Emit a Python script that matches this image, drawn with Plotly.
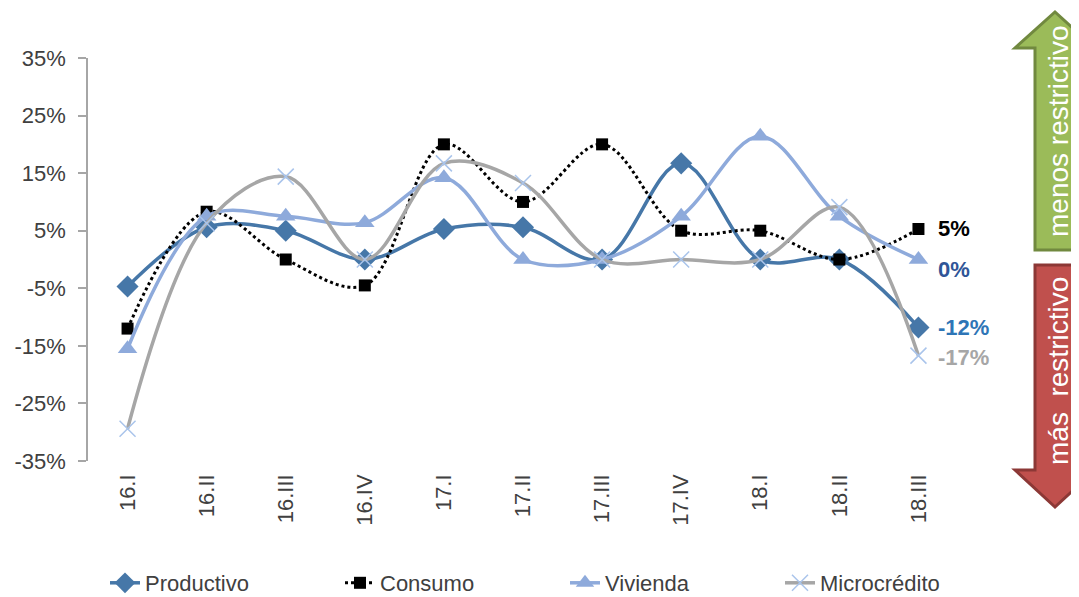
import plotly.graph_objects as go

# Datos (variación %, trimestres)
trimestres = ["16.I", "16.II", "16.III", "16.IV", "17.I", "17.II",
              "17.III", "17.IV", "18.I", "18.II", "18.III"]
productivo = [-4.7, 5.6, 5.0, 0.0, 5.3, 5.6, 0.0, 16.7, 0.0, 0.0, -11.8]
consumo = [-12.0, 8.3, 0.0, -4.5, 20.0, 10.0, 20.0, 5.0, 5.0, 0.0, 5.3]
vivienda = [-15.5, 7.5, 7.5, 6.4, 14.2, 0.0, 0.0, 7.5, 21.4, 7.5, 0.0]
microcredito = [-29.4, 6.3, 14.4, 0.0, 16.7, 13.3, 0.0, 0.0, 0.0, 9.1, -16.7]
y_ticks = [-35, -25, -15, -5, 5, 15, 25, 35]

FONT = "Liberation Sans Narrow, Arial Narrow, Liberation Sans, sans-serif"
OFF = 8  # margen del body de la página
W, H = 1079 - OFF, 597 - OFF
# área de trazado en píxeles de pantalla
L, R, T, B = 88, 958, 58, 461


def px(x):
    return (x - L) / (R - L)


def py(y):
    return (B - y) / (B - T)


fig = go.Figure()

fig.add_trace(go.Scatter(
    x=trimestres, y=productivo, name="Productivo", mode="lines+markers",
    legend="legend",
    line=dict(color="#4677A8", width=3.5, shape="spline", smoothing=1),
    marker=dict(symbol="diamond", size=17, color="#4677A8")
))
fig.add_trace(go.Scatter(
    x=trimestres, y=consumo, name="Consumo", mode="lines+markers",
    legend="legend2",
    line=dict(color="#000000", width=3, dash="dot", shape="spline", smoothing=1),
    marker=dict(symbol="square", size=12, color="#000000")
))
fig.add_trace(go.Scatter(
    x=trimestres, y=vivienda, name="Vivienda", mode="lines+markers",
    legend="legend3",
    line=dict(color="#8EAADB", width=3.5, shape="spline", smoothing=1),
    marker=dict(symbol="triangle-up", size=17, color="#8EAADB")
))
fig.add_trace(go.Scatter(
    x=trimestres, y=microcredito, name="Microcrédito", mode="lines+markers",
    legend="legend4",
    line=dict(color="#A6A6A6", width=3.5, shape="spline", smoothing=1),
    marker=dict(symbol="x-thin", size=16, color="#A9C4EB",
                line=dict(color="#A9C4EB", width=1.5))
))

# Etiquetas finales
etiquetas = [
    (consumo[-1], "#000000", 0),
    (vivienda[-1], "#2F5597", -10),
    (productivo[-1], "#2E75B6", 0),
    (microcredito[-1], "#A6A6A6", -2),
]
for val, col, ys in etiquetas:
    fig.add_annotation(
        x=trimestres[-1], y=val, text=f"<b>{round(val)}%</b>",
        showarrow=False, xanchor="left", xshift=18, yshift=ys,
        font=dict(family=FONT, size=22, color=col)
    )

# Flechas laterales
green = (f"M {px(1035)},{py(250)} L {px(1035)},{py(48)} L {px(1015)},{py(48)} "
         f"L {px(1055)},{py(12)} L {px(1095)},{py(48)} L {px(1076)},{py(48)} "
         f"L {px(1076)},{py(250)} Z")
red = (f"M {px(1035)},{py(265)} L {px(1035)},{py(470)} L {px(1015)},{py(470)} "
       f"L {px(1055)},{py(507)} L {px(1095)},{py(470)} L {px(1076)},{py(470)} "
       f"L {px(1076)},{py(265)} Z")
fig.add_shape(type="path", path=green, xref="paper", yref="paper",
              fillcolor="#9BBB59", line=dict(color="#71893F", width=3))
fig.add_shape(type="path", path=red, xref="paper", yref="paper",
              fillcolor="#C0504D", line=dict(color="#8C3836", width=3))
fig.add_annotation(x=px(1058), y=py(131), xref="paper", yref="paper",
                   xanchor="center", yanchor="middle",
                   text="menos restrictivo", textangle=-90, showarrow=False,
                   font=dict(family=FONT, size=28, color="#FFFFFF"))
fig.add_annotation(x=px(1058), y=py(371), xref="paper", yref="paper",
                   xanchor="center", yanchor="middle",
                   text="más  restrictivo", textangle=-90, showarrow=False,
                   font=dict(family=FONT, size=28, color="#FFFFFF"))

# Leyendas (una por serie para fijar su posición)
leg_x = [105, 340, 565, 780]
leg_common = dict(orientation="h", xref="container", yref="container",
                  y=1 - (583 - OFF) / H, xanchor="left", yanchor="middle",
                  bgcolor="rgba(0,0,0,0)",
                  font=dict(family=FONT, size=22, color="#404040"))
legends = {}
for i, lx in enumerate(leg_x):
    key = "legend" if i == 0 else f"legend{i + 1}"
    legends[key] = dict(leg_common, x=(lx - OFF) / W)

fig.update_layout(
    width=W, height=H,
    margin=dict(l=L - OFF, r=W - (R - OFF), t=T - OFF, b=H - (B - OFF),
                autoexpand=False),
    paper_bgcolor="#FFFFFF", plot_bgcolor="#FFFFFF",
    font=dict(family=FONT, size=22, color="#404040"),
    showlegend=True,
    **legends,
    xaxis=dict(type="category", categoryorder="array", categoryarray=trimestres,
               range=[-0.5, len(trimestres) - 0.5],
               showline=False, showgrid=False, zeroline=False,
               ticks="", tickangle=-90, ticklabelstandoff=8,
               tickfont=dict(family=FONT, size=22, color="#404040")),
    xaxis2=dict(overlaying="x", anchor="free", position=0.5,
                range=[-0.5, len(trimestres) - 0.5],
                tickvals=[i - 0.5 for i in range(len(trimestres) + 1)],
                showticklabels=False, showgrid=False, zeroline=False,
                showline=True, linecolor="#A6A6A6", linewidth=1.5,
                ticks="outside", ticklen=7, tickcolor="#A6A6A6", tickwidth=1.5),
    yaxis=dict(range=[-35, 35], tickvals=y_ticks,
               ticktext=[f"{v}%" for v in y_ticks],
               showgrid=False, zeroline=False,
               showline=True, linecolor="#A6A6A6", linewidth=1.5,
               ticks="outside", ticklen=8, tickcolor="#A6A6A6", tickwidth=1.5,
               ticklabelstandoff=8,
               tickfont=dict(family=FONT, size=22, color="#404040")),
)

fig.write_html("out.html")
